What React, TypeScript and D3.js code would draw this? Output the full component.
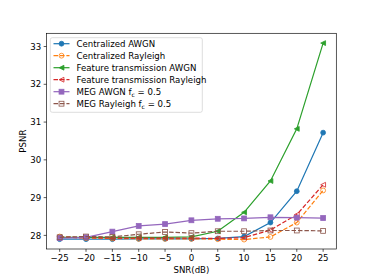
import React from "react";
import * as d3 from "d3";

const snr = [-25, -20, -15, -10, -5, 0, 5, 10, 15, 20, 25];
const centralizedAWGN = [27.9, 27.9, 27.9, 27.91, 27.91, 27.91, 27.92, 27.97, 28.34, 29.17, 30.72];
const centralizedRayleigh = [27.97, 27.93, 27.92, 27.91, 27.91, 27.91, 27.9, 27.89, 27.96, 28.34, 29.19];
const featureAWGN = [27.95, 27.95, 27.95, 27.95, 27.95, 27.96, 28.11, 28.61, 29.44, 30.82, 33.09];
const featureRayleigh = [27.95, 27.94, 27.93, 27.93, 27.93, 27.93, 27.92, 27.94, 28.14, 28.55, 29.34];
const megAWGN = [27.93, 27.95, 28.1, 28.25, 28.3, 28.4, 28.44, 28.45, 28.48, 28.47, 28.46];
const megRayleigh = [27.95, 27.97, 27.96, 28.03, 28.09, 28.06, 28.11, 28.11, 28.13, 28.13, 28.12];
const xTicks = [-25, -20, -15, -10, -5, 0, 5, 10, 15, 20, 25];
const yTicks = [28, 29, 30, 31, 32, 33];

type Marker = "circle" | "square" | "left";
const series: { name: string; sub?: string; values: number[]; color: string; dashed: boolean; marker: Marker }[] = [
  { name: "Centralized AWGN", values: centralizedAWGN, color: "#1f77b4", dashed: false, marker: "circle" },
  { name: "Centralized Rayleigh", values: centralizedRayleigh, color: "#ff7f0e", dashed: true, marker: "circle" },
  { name: "Feature transmission AWGN", values: featureAWGN, color: "#2ca02c", dashed: false, marker: "left" },
  { name: "Feature transmission Rayleigh", values: featureRayleigh, color: "#d62728", dashed: true, marker: "left" },
  { name: "MEG AWGN f", sub: "c", values: megAWGN, color: "#9467bd", dashed: false, marker: "square" },
  { name: "MEG Rayleigh f", sub: "c", values: megRayleigh, color: "#8c564b", dashed: true, marker: "square" },
];

const W = 374, H = 280;
const L = 46.5, R = 336.3, T = 33.3, B = 249;
const FONT = "DejaVu Sans, sans-serif";
const FS = 8.6;

function MarkerShape({ type, x, y, color, open }: { type: Marker; x: number; y: number; color: string; open: boolean }) {
  const fill = open ? "none" : color;
  const sw = 0.81;
  const s = 4.87;
  if (type === "circle") return <circle cx={x} cy={y} r={s / 2} fill={fill} stroke={color} strokeWidth={sw} />;
  if (type === "square") return <rect x={x - s / 2} y={y - s / 2} width={s} height={s} fill={fill} stroke={color} strokeWidth={sw} strokeLinejoin="miter" />;
  const h = s / 2;
  const pts = [[x - h, y], [x + h, y - h], [x + h, y + h]].map(p => p.join(",")).join(" ");
  return <polygon points={pts} fill={fill} stroke={color} strokeWidth={sw} strokeLinejoin="miter" />;
}

export default function App() {
  const x = d3.scaleLinear().domain([-27.5, 27.5]).range([L, R]);
  const y = d3.scaleLinear().domain([27.64, 33.35]).range([B, T]);
  const line = d3.line<number>().x((_, i) => x(snr[i])).y(d => y(d));
  const lw = 1.22;
  const dash = "4.5,1.95";
  return (
    <svg width={W} height={H} style={{ position: "absolute", left: 0, top: 0, background: "#fff" }} fontFamily={FONT}>
      <rect x={0} y={0} width={W} height={H} fill="#fff" />
      <defs>
        <clipPath id="clip"><rect x={L} y={T} width={R - L} height={B - T} /></clipPath>
      </defs>
      <g clipPath="url(#clip)">
        {series.map(s => (
          <g key={s.name}>
            <path d={line(s.values) || ""} fill="none" stroke={s.color} strokeWidth={lw} strokeDasharray={s.dashed ? dash : undefined} />
            {s.values.map((v, i) => (
              <MarkerShape key={i} type={s.marker} x={x(snr[i])} y={y(v)} color={s.color} open={s.dashed} />
            ))}
          </g>
        ))}
      </g>
      <rect x={L} y={T} width={R - L} height={B - T} fill="none" stroke="#000" strokeWidth={0.65} />
      {xTicks.map(t => (
        <g key={t}>
          <line x1={x(t)} x2={x(t)} y1={B} y2={B + 2.84} stroke="#000" strokeWidth={0.65} />
          <text x={x(t)} y={B + 11.5} fontSize={FS} textAnchor="middle" fill="#000">{t < 0 ? "\u2212" + Math.abs(t) : t}</text>
        </g>
      ))}
      {yTicks.map(t => (
        <g key={t}>
          <line x1={L - 2.84} x2={L} y1={y(t)} y2={y(t)} stroke="#000" strokeWidth={0.65} />
          <text x={L - 5.2} y={y(t) + 3.1} fontSize={FS} textAnchor="end" fill="#000">{t}</text>
        </g>
      ))}
      <text x={(L + R) / 2} y={272.5} fontSize={FS} textAnchor="middle" fill="#000">SNR(dB)</text>
      <text transform={`translate(25.5,${(T + B) / 2}) rotate(-90)`} fontSize={FS} textAnchor="middle" fill="#000">PSNR</text>
      <g>
        <rect x={50.3} y={37.7} width={152} height={74.6} rx={2} fill="#fff" fillOpacity={0.8} stroke="#cccccc" strokeWidth={0.65} />
        {series.map((s, i) => {
          const cy = 43.7 + i * 12;
          return (
            <g key={s.name}>
              <line x1={53.5} x2={69.5} y1={cy} y2={cy} stroke={s.color} strokeWidth={lw} strokeDasharray={s.dashed ? dash : undefined} />
              <MarkerShape type={s.marker} x={61.5} y={cy} color={s.color} open={s.dashed} />
              <text x={76.5} y={cy + 3.1} fontSize={FS} fill="#000">
                {s.name}
                {s.sub ? <tspan fontSize={FS * 0.7} dy={1.7}>{s.sub}</tspan> : null}
                {s.sub ? <tspan dy={-1.7}>{" = 0.5"}</tspan> : null}
              </text>
            </g>
          );
        })}
      </g>
    </svg>
  );
}
